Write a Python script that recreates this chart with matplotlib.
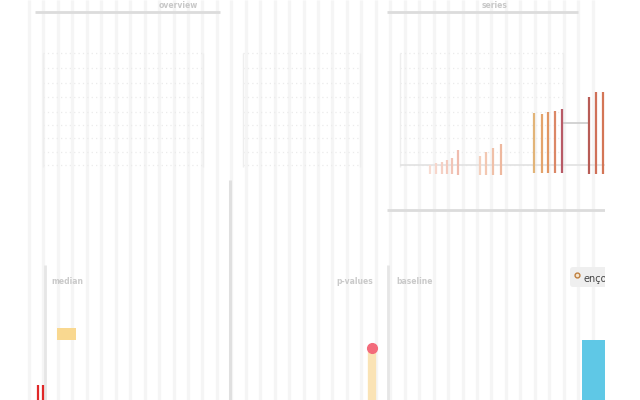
import matplotlib
matplotlib.use("Agg")
import matplotlib.pyplot as plt
import numpy as np
from matplotlib.patches import FancyBboxPatch, Rectangle

# ---- data ----
panel_titles = ["overview", "series"]
panel_labels = ["median", "p-values", "baseline"]
legend_label = "ençoo"

stem_pos = [430, 436, 442, 447, 452, 458, 480, 486, 493, 501,
            534, 542, 548, 555, 562, 589, 596, 603]
stem_vals = [7, 9, 10, 12, 14, 22, 16, 20, 24, 28,
             59, 58, 60, 61, 63, 75, 80, 80]
stem_low = [-2, -2, -2, -2, -2, -3, -3, -3, -3, -3,
            -1, -1, -1, -1, -1, -2, -2, -2]
stem_colors = ["#f8dcd2", "#f7d6cb", "#f5d0c4", "#f4cabd", "#f2c4b6", "#f0bcae",
               "#f5d0bd", "#f3c8b2", "#f0c0a8", "#eeb89e",
               "#e2b478", "#e4a46c", "#e19664", "#db8766", "#b85a66",
               "#b85c56", "#d07058", "#d47656"]
connector_val = 49
baseline_val = 7

bar_value = 60          # blue bar height
marker_value = 52       # pink marker height

W, H = 640, 400
fig = plt.figure(figsize=(6.4, 4.0), dpi=100)
fig.patch.set_facecolor("white")

cv = fig.add_axes([0, 0, 605 / W, 1])
cv.set_xlim(0, 605)
cv.set_ylim(400, 0)
cv.axis("off")

# faint vertical background grid
for x in np.arange(29, 606, 14.45):
    cv.vlines(x, 0, 400, color="#f5f5f5", lw=2.4, zorder=0)

# dotted panel grids
for (x0, x1) in [(43, 203), (243, 360), (400, 563)]:
    for y in [53, 68, 83, 97, 112, 125, 138, 152, 165]:
        cv.hlines(y, x0, x1, color="#ebebeb", lw=0.9, ls=(0, (1, 2.5)), zorder=1)
    cv.vlines([x0, x1], 53, 167, color="#eeeeee", lw=1.0, zorder=1)

# top rules and titles
cv.hlines(12, 35, 220, color="#dcdcdc", lw=2)
cv.hlines(12, 387, 578, color="#dcdcdc", lw=2)
cv.text(178, 6, panel_titles[0], ha="center", va="center", fontsize=5.5,
        color="#c8c8c8", fontweight="bold")
cv.text(495, 6, panel_titles[1], ha="center", va="center", fontsize=5.5,
        color="#c8c8c8", fontweight="bold")

# mid rule
cv.hlines(210, 387, 605, color="#dcdcdc", lw=2)

# bottom spines
cv.vlines(45, 265, 400, color="#e6e6e6", lw=2)
cv.vlines(230, 180, 400, color="#e0e0e0", lw=2.2)
cv.vlines(388, 265, 400, color="#e6e6e6", lw=2)

# blurred labels
cv.text(67, 281, panel_labels[0], ha="center", va="center", fontsize=5.5,
        color="#cacaca", fontweight="bold")
cv.text(355, 281, panel_labels[1], ha="center", va="center", fontsize=5.5,
        color="#cacaca", fontweight="bold")
cv.text(415, 281, panel_labels[2], ha="center", va="center", fontsize=5.5,
        color="#cacaca", fontweight="bold")

# yellow block
cv.add_patch(Rectangle((57, 328), 19, 12, facecolor="#f9d890", edgecolor="none", zorder=3))
# red ticks bottom-left
cv.vlines([38, 43], 385, 400, color="#e02828", lw=1.6, zorder=3)

# bar with marker
cv.vlines(372, 400 - marker_value + 4, 400, color="#fae3b5", lw=6, zorder=3)
cv.plot([372], [400 - marker_value], "o", ms=7, color="#f36b7b", zorder=4)

# blue bar
cv.add_patch(Rectangle((582, 400 - bar_value), 30, bar_value, facecolor="#5fc8e6",
                       edgecolor="none", zorder=3))

# legend box
cv.add_patch(FancyBboxPatch((570, 267), 40, 20, boxstyle="round,pad=0,rounding_size=3",
                            facecolor="#efefef", edgecolor="none", zorder=4))
cv.plot([577], [275], "o", ms=3.5, mfc="#f5e6d0", mec="#c08040", mew=1, zorder=5)
cv.text(584, 279, legend_label, fontsize=7, color="#444444", va="center", ha="left",
        zorder=5, clip_on=True)

# stems panel
sp = fig.add_axes([400 / W, (400 - 180) / H, 205 / W, 140 / H])
sp.set_xlim(400, 605)
sp.set_ylim(-8, 132)
sp.axis("off")
sp.patch.set_alpha(0)
sp.hlines(baseline_val, 400, 605, color="#e2e2e2", lw=1.2, zorder=1)
sp.hlines(connector_val, 562, 589, color="#cccccc", lw=1.2, zorder=1)
sp.vlines(stem_pos, stem_low, stem_vals, colors=stem_colors, lw=1.6, zorder=2)

fig.savefig("out.png", dpi=100, facecolor="white")
